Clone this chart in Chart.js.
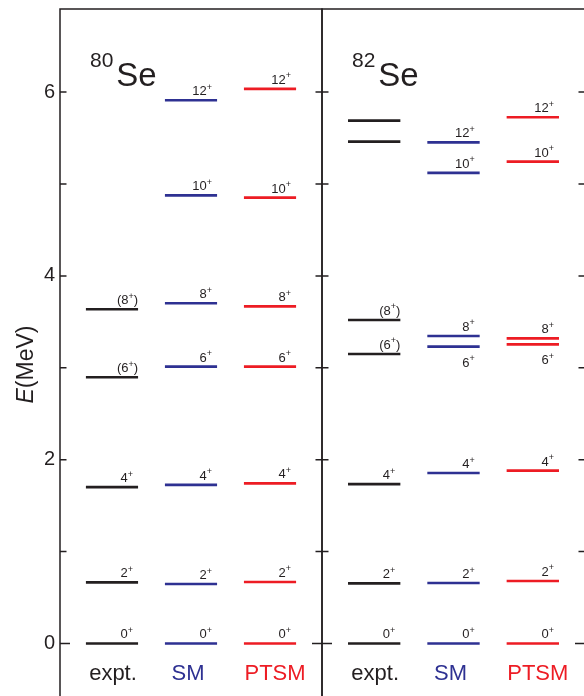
<!DOCTYPE html>
<html>
<head>
<meta charset="utf-8">
<script src="https://cdn.jsdelivr.net/npm/chart.js@4.4.1/dist/chart.umd.min.js"></script>
<style>
  html, body { margin: 0; padding: 0; background: #ffffff; overflow: hidden; width: 584px; height: 696px; }
  #wrap { position: relative; width: 584px; height: 696px; overflow: hidden; }
  canvas { position: absolute; left: 0; top: 0; }
</style>
</head>
<body>
<div id="wrap">
  <canvas id="c80" width="584" height="700"></canvas>
  <canvas id="c82" width="590" height="700"></canvas>
</div>
<script>
// ---------------- data ----------------
const columns = ['expt.', 'SM', 'PTSM'];
const columnColors = ['#231f20', '#2e3192', '#ed1c24'];

const yTickValues = [0, 1, 2, 3, 4, 5, 6];
const yTickLabels = ['0', '', '2', '', '4', '', '6'];

// 80Se
const se80_expt_E = [0, 0.666, 1.701, 2.897, 3.637];
const se80_expt_J = ['0', '2', '4', '(6)', '(8)'];
const se80_sm_E   = [0, 0.647, 1.725, 3.012, 3.702, 4.877, 5.911];
const se80_sm_J   = ['0', '2', '4', '6', '8', '10', '12'];
const se80_ptsm_E = [0, 0.669, 1.743, 3.012, 3.669, 4.851, 6.034];
const se80_ptsm_J = ['0', '2', '4', '6', '8', '10', '12'];

// 82Se
const se82_expt_E = [0, 0.655, 1.735, 3.150, 3.520, 5.460, 5.689];
const se82_expt_J = ['0', '2', '4', '(6)', '(8)', '', ''];
const se82_sm_E   = [0, 0.658, 1.855, 3.230, 3.346, 5.120, 5.453];
const se82_sm_J   = ['0', '2', '4', '6', '8', '10', '12'];
const se82_ptsm_E = [0, 0.680, 1.881, 3.255, 3.320, 5.244, 5.726];
const se82_ptsm_J = ['0', '2', '4', '6', '8', '10', '12'];
// spin labels drawn below their level (1) instead of above (0)
const se82_sm_below   = [0, 0, 0, 1, 0, 0, 0];
const se82_ptsm_below = [0, 0, 0, 1, 0, 0, 0];

const FONT = '"Liberation Sans", Arial, Helvetica, sans-serif';
const INK = '#231f20';
const HALF = 0.33;     // half width of a level bar (x units, column spacing = 1)
const X_MIN = -0.658, X_MAX = 2.658;
const Y_MIN = -0.615, Y_MAX = 6.904;
const NAME_SHIFT = [1, -3, 5];   // px nudge of the column names

function levelData(E) {
  const pts = [];
  E.forEach(e => {
    pts.push({x: -HALF, y: e});
    pts.push({x: HALF, y: e});
    pts.push({x: HALF, y: null});
  });
  return pts;
}

function makeDatasets(cols) {
  return cols.map((c, i) => ({
    label: columns[i],
    data: levelData(c.E).map(p => ({x: p.x + i, y: p.y})),
    borderColor: columnColors[i],
    borderWidth: 2.7,
    borderCapStyle: 'butt',
    pointRadius: 0,
    spanGaps: false,
    fill: false,
    tension: 0,
    levelE: c.E,
    spins: c.J,
    below: c.below || c.E.map(() => 0),
    col: i
  }));
}

// ---------------- plugins ----------------
const framePlugin = {
  id: 'frame',
  afterDatasetsDraw(chart) {
    const {ctx, chartArea: a, scales} = chart;
    ctx.save();
    ctx.strokeStyle = INK;
    ctx.lineWidth = 1.5;
    ctx.strokeRect(a.left, a.top, a.right - a.left, a.bottom - a.top);
    yTickValues.forEach(v => {
      const y = scales.y.getPixelForValue(v);
      const len = v === 0 ? 10 : 6.5;
      ctx.beginPath();
      ctx.moveTo(a.left, y); ctx.lineTo(a.left + len, y);
      ctx.moveTo(a.right - len, y); ctx.lineTo(a.right, y);
      ctx.stroke();
    });
    ctx.restore();
  }
};

const labelPlugin = {
  id: 'levelLabels',
  afterDatasetsDraw(chart) {
    const {ctx, scales} = chart;
    const xs = scales.x, ys = scales.y;
    ctx.save();
    ctx.fillStyle = INK;
    ctx.textBaseline = 'alphabetic';
    ctx.textAlign = 'left';
    chart.data.datasets.forEach(ds => {
      ds.levelE.forEach((e, k) => {
        const j = ds.spins[k];
        if (!j) return;
        const paren = j.startsWith('(');
        const num = j.replace(/[()]/g, '');
        const open = paren ? '(' : '';
        const close = paren ? ')' : '';
        const big = '13px ' + FONT, small = '9px ' + FONT;
        ctx.font = big;
        const w1 = ctx.measureText(open + num).width;
        const w3 = ctx.measureText(close).width;
        ctx.font = small;
        const w2 = ctx.measureText('+').width;
        const xEnd = xs.getPixelForValue(ds.col + HALF) - (paren ? 0 : 5);
        const yl = ys.getPixelForValue(e);
        const base = ds.below[k] ? yl + 20 : yl - 5;
        let x = xEnd - (w1 + w2 + w3);
        ctx.font = big;
        ctx.fillText(open + num, x, base);
        x += w1;
        ctx.font = small;
        ctx.fillText('+', x, base - 5.5);
        x += w2;
        if (close) { ctx.font = big; ctx.fillText(close, x, base); }
      });
    });
    // column names under the levels
    const y0 = ys.getPixelForValue(0);
    ctx.textAlign = 'center';
    ctx.font = '22px ' + FONT;
    columns.forEach((name, i) => {
      ctx.fillStyle = columnColors[i];
      ctx.fillText(name, xs.getPixelForValue(i) + NAME_SHIFT[i], y0 + 37);
    });
    // nucleus title
    const mass = chart.options.plugins.levelLabels.mass;
    const a = chart.chartArea;
    ctx.fillStyle = INK;
    ctx.textAlign = 'left';
    ctx.font = '21px ' + FONT;
    const tx = a.left + 30;
    ctx.fillText(mass, tx, 67);
    const mw = ctx.measureText(mass).width;
    ctx.font = '33px ' + FONT;
    ctx.fillText('Se', tx + mw + 3, 86);
    // y-axis title
    if (chart.options.plugins.levelLabels.yTitle) {
      ctx.save();
      ctx.translate(33, 364.5);
      ctx.rotate(-Math.PI / 2);
      ctx.font = 'italic 23px ' + FONT;
      const we = ctx.measureText('E').width;
      ctx.font = '23px ' + FONT;
      const wr = ctx.measureText('(MeV)').width;
      let x = -(we + wr) / 2;
      ctx.font = 'italic 23px ' + FONT;
      ctx.fillText('E', x, 0);
      ctx.font = '23px ' + FONT;
      ctx.fillText('(MeV)', x + we, 0);
      ctx.restore();
    }
    ctx.restore();
  }
};

function makeChart(id, cols, opts) {
  return new Chart(document.getElementById(id), {
    type: 'line',
    data: { datasets: makeDatasets(cols) },
    options: {
      responsive: false,
      animation: false,
      devicePixelRatio: 1,
      layout: { padding: opts.padding },
      plugins: {
        legend: { display: false },
        tooltip: { enabled: false },
        levelLabels: { mass: opts.mass, yTitle: opts.yTitle }
      },
      scales: {
        x: { type: 'linear', min: X_MIN, max: X_MAX, display: false },
        y: {
          type: 'linear', min: Y_MIN, max: Y_MAX,
          display: opts.showY,
          afterBuildTicks: s => { s.ticks = yTickValues.map(v => ({value: v})); },
          afterFit: s => { s.width = opts.showY ? 60 : 0; s.paddingTop = 0; s.paddingBottom = 0; },
          grid: { display: false, drawTicks: false },
          border: { display: false },
          ticks: {
            padding: 5,
            color: INK,
            font: { family: FONT, size: 20 },
            callback: (v, i) => yTickLabels[i]
          }
        }
      }
    },
    plugins: [framePlugin, labelPlugin]
  });
}

makeChart('c80', [
  {E: se80_expt_E, J: se80_expt_J},
  {E: se80_sm_E, J: se80_sm_J},
  {E: se80_ptsm_E, J: se80_ptsm_J}
], { mass: '80', yTitle: true, showY: true, padding: {left: 0, right: 262, top: 9, bottom: 0} });

makeChart('c82', [
  {E: se82_expt_E, J: se82_expt_J},
  {E: se82_sm_E, J: se82_sm_J, below: se82_sm_below},
  {E: se82_ptsm_E, J: se82_ptsm_J, below: se82_ptsm_below}
], { mass: '82', yTitle: false, showY: false, padding: {left: 322, right: 5, top: 9, bottom: 0} });
</script>
</body>
</html>
